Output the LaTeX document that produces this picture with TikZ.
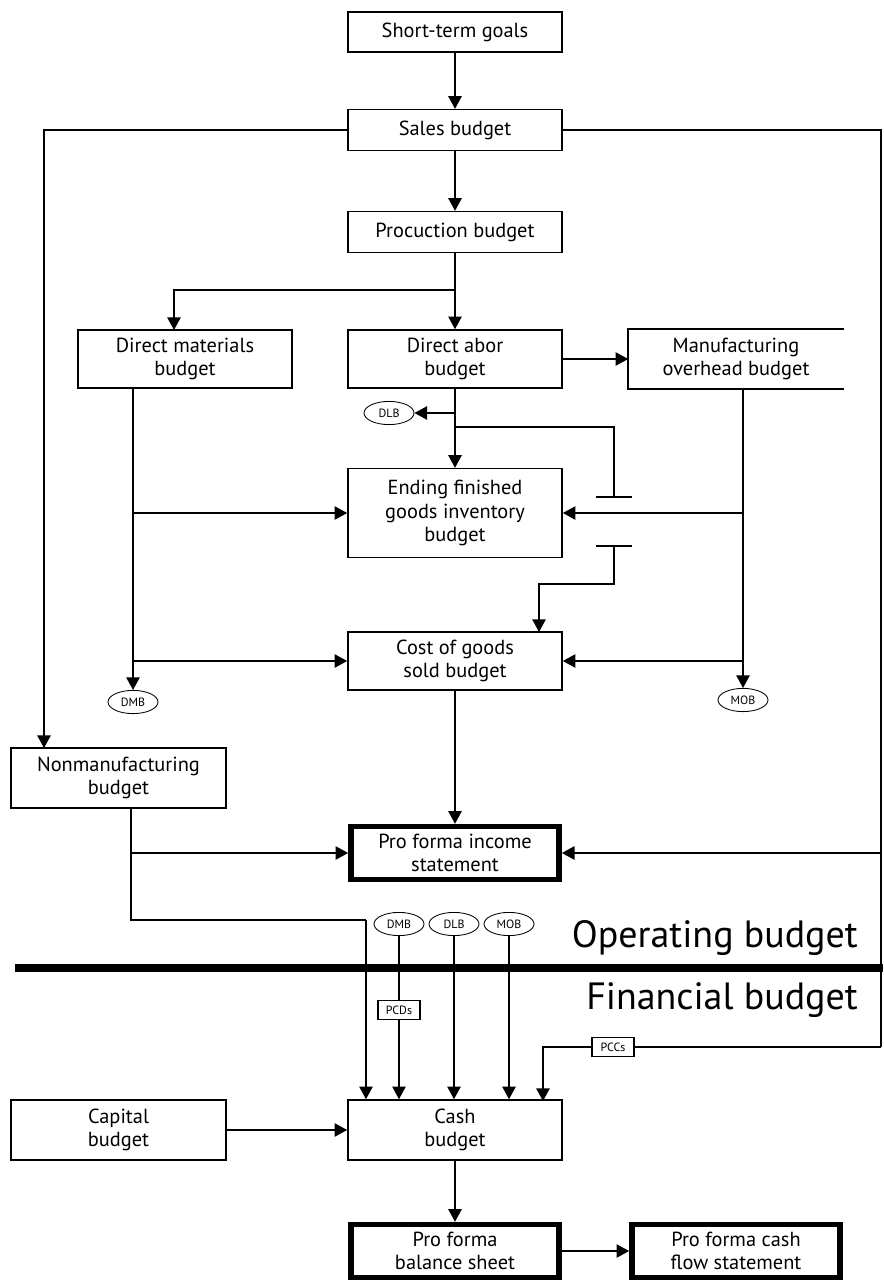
\documentclass[tikz,border=0pt]{standalone}
\usepackage{fontspec}
\setmainfont{PT Sans}
\usepackage{tikz}
\usetikzlibrary{arrows.meta, positioning, shapes.geometric, calc}

\begin{document}
\begin{tikzpicture}[
  x=0.025cm, y=-0.025cm,
  box/.style={draw, line width=1.1pt, minimum width=5.35cm, minimum height=1.45cm,
    inner sep=0pt, align=center, font=\fontsize{14.5}{16.5}\selectfont},
  openbox/.style={box, draw=none},
  thickbox/.style={box, line width=4pt, minimum width=5.2cm, minimum height=1.32cm},
  oval/.style={ellipse, draw, line width=0.6pt, minimum width=1.25cm, minimum height=0.58cm,
    inner sep=0pt, font=\fontsize{8.5}{9}\selectfont},
  tag/.style={draw, line width=0.9pt, minimum width=1.05cm, minimum height=0.47cm,
    inner sep=1pt, font=\fontsize{8.5}{9}\selectfont, fill=white},
  biglabel/.style={anchor=east, inner sep=0pt, font=\fontsize{27}{30}\selectfont},
  line/.style={line width=1.1pt},
  arr/.style={line, -{Triangle[width=9.5pt,length=9pt]}}
]
  \useasboundingbox (0,0) rectangle (883,1282);

  \node[box, minimum height=1cm]     (goals)  at (455,32)   {Short-term goals};
  \node[box, minimum height=1.02cm]  (sales)  at (455,130)  {Sales budget};
  \node[box, minimum height=1.02cm]  (prod)   at (455,232)  {Procuction budget};
  \node[box]                         (dmat)   at (185,359)  {Direct materials\\budget};
  \node[box]                         (dlab)   at (455,359)  {Direct abor\\budget};
  \node[openbox]                     (moh)    at (736,359)  {Manufacturing\\overhead budget};
  \node[box, minimum height=2.22cm]  (efg)    at (455,513)  {Ending finished\\goods inventory\\budget};
  \node[box]                         (cogs)   at (455,661)  {Cost of goods\\sold budget};
  \node[box, minimum width=5.375cm, minimum height=1.5cm]
                                     (nonman) at (118.5,778) {Nonmanufacturing\\budget};
  \node[thickbox]                    (pfis)   at (455,853)  {Pro forma income\\statement};
  \node[box, minimum width=5.375cm, minimum height=1.5cm]
                                     (cap)    at (118.5,1130) {Capital\\budget};
  \node[box, minimum height=1.5cm]   (cash)   at (455,1130) {Cash\\budget};
  \node[thickbox]                    (pfbs)   at (455,1251) {Pro forma\\balance sheet};
  \node[thickbox]                    (pfcf)   at (736,1251) {Pro forma cash\\flow statement};

  % overhead box is open on its right side
  \draw[line] (moh.north east) -- (moh.north west) -- (moh.south west) -- (moh.south east);

  \node[oval] (dlbA) at (389,413) {DLB};
  \node[oval] (dmbA) at (133,702) {DMB};
  \node[oval] (mobA) at (743,700) {MOB};
  \node[oval] (dmbB) at (399,924) {DMB};
  \node[oval] (dlbB) at (454,924) {DLB};
  \node[oval] (mobB) at (509,924) {MOB};

  \node[biglabel] (oplab)  at (858,938)  {Operating budget};
  \node[biglabel] (finlab) at (858,1000) {Financial budget};

  \coordinate (nmin)  at (44,748);
  \coordinate (rbot)  at (881,1047);
  \coordinate (rjoin) at (881,853);
  \coordinate (pj)    at (455,290);
  \coordinate (dmin)  at (174,330);
  \coordinate (dlj)   at (455,413);
  \coordinate (tj)    at (455,427);
  \coordinate (t1)    at (614,497);
  \coordinate (t2)    at (614,546);
  \coordinate (cgin)  at (539,632);
  \coordinate (nmo)   at (131,808);
  \coordinate (nturn) at (366,920);
  \coordinate (ccin)  at (543,1101);
  \coordinate (divl)  at (15,968);
  \coordinate (divr)  at (883,968);

  \draw[arr] (goals) -- (sales);
  \draw[arr] (sales) -- (prod);
  \draw[arr] (sales.west) -| (nmin);
  \draw[line] (sales.east) -| (rbot);
  \draw[arr] (rjoin) -- (pfis.east);

  \draw[line] (prod) -- (pj);
  \draw[arr] (pj) -| (dmin);
  \draw[arr] (pj) -- (dlab);
  \draw[arr] (dlab) -- (moh.west);

  \draw[arr] (dlab) -- (efg);
  \draw[arr] (dlj) -- (dlbA);
  \draw[line] (tj) -| (t1);
  \draw[line] (t1) +(-18,0) -- +(18,0);
  \draw[line] (t2) +(-18,0) -- +(18,0);
  \draw[arr] (t2) -- ++(0,38) -| (cgin);

  \draw[arr] (mobA |- moh.south) -- (mobA);
  \draw[arr] (mobA |- efg.east) -- (efg.east);
  \draw[arr] (mobA |- cogs.east) -- (cogs.east);

  \draw[arr] (dmbA |- dmat.south) -- (dmbA);
  \draw[arr] (dmbA |- efg.west) -- (efg.west);
  \draw[arr] (dmbA |- cogs.west) -- (cogs.west);

  \draw[arr] (cogs) -- (pfis);
  \draw[arr] (nmo |- pfis.west) -- (pfis.west);
  \draw[line] (nmo) |- (nturn);
  \draw[arr] (nturn) -- (nturn |- cash.north);

  \node[tag] (pcds) at (399,1010) {PCDs};
  \node[tag] (pccs) at (613,1047) {PCCs};

  \draw[line] (dmbB) -- (pcds);
  \draw[arr] (pcds) -- (pcds |- cash.north);
  \draw[arr] (dlbB) -- (dlbB |- cash.north);
  \draw[arr] (mobB) -- (mobB |- cash.north);
  \draw[line] (rbot) -- (pccs.east);
  \draw[arr] (pccs.west) -| (ccin);

  \draw[line width=6pt] (divl) -- (divr);

  \draw[arr] (cap) -- (cash);
  \draw[arr] (cash) -- (pfbs);
  \draw[arr] (pfbs) -- (pfcf);
\end{tikzpicture}
\end{document}
